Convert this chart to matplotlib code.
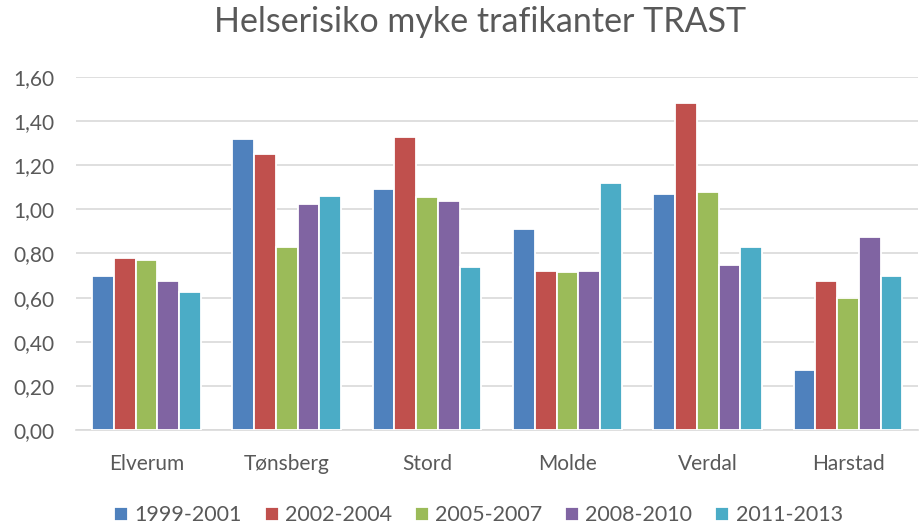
import numpy as np
import matplotlib.pyplot as plt
from matplotlib.ticker import FuncFormatter, MultipleLocator

plt.rcParams['font.family'] = ['Lato', 'DejaVu Sans']

steder = ["Elverum", "Tønsberg", "Stord", "Molde", "Verdal", "Harstad"]
perioder = ["1999-2001", "2002-2004", "2005-2007", "2008-2010", "2011-2013"]

p1999 = [0.70, 1.32, 1.09, 0.91, 1.07, 0.27]
p2002 = [0.78, 1.25, 1.33, 0.72, 1.48, 0.675]
p2005 = [0.77, 0.83, 1.055, 0.715, 1.08, 0.60]
p2008 = [0.675, 1.025, 1.04, 0.72, 0.75, 0.875]
p2011 = [0.625, 1.06, 0.74, 1.12, 0.83, 0.70]

farger = ["#4F81BD", "#C0504D", "#9BBB59", "#8064A2", "#4BACC6"]
serier = [p1999, p2002, p2005, p2008, p2011]

fig = plt.figure(figsize=(9.2, 5.27), dpi=100)
ax = fig.add_axes([0.083, 0.184, 0.915, 0.67])

x = np.arange(len(steder))
w = 0.155
for i, (verdier, farge, navn) in enumerate(zip(serier, farger, perioder)):
    ax.bar(x + (i - 2) * w, verdier, w, color=farge, edgecolor='white',
           linewidth=1.3, label=navn, zorder=3)

ax.set_xlim(-0.5, len(steder) - 0.5)
ax.set_ylim(0, 1.6)
ax.yaxis.set_major_locator(MultipleLocator(0.2))
ax.yaxis.set_major_formatter(FuncFormatter(lambda v, p: f"{v:.2f}".replace('.', ',')))
ax.grid(axis='y', color='#d9d9d9', linewidth=1.2, zorder=0)
for s in ['top', 'right', 'left']:
    ax.spines[s].set_visible(False)
ax.spines['bottom'].set_color('#d9d9d9')
ax.spines['bottom'].set_linewidth(1.2)
ax.tick_params(length=0, colors='#595959', labelsize=15)
ax.tick_params(axis='y', pad=16)
ax.tick_params(axis='x', pad=17)
ax.set_xticks(x)
ax.set_xticklabels(steder)

fig.text(0.522, 0.958, "Helserisiko myke trafikanter TRAST", ha='center', va='center',
         fontsize=24.5, color='#595959')

fig.legend(loc='center', bbox_to_anchor=(0.52, 0.022), ncol=5, frameon=False,
           fontsize=15.5, handlelength=0.65, handleheight=0.65, handletextpad=0.3,
           columnspacing=1.05, labelcolor='#595959')

fig.savefig("out.png", dpi=100)
